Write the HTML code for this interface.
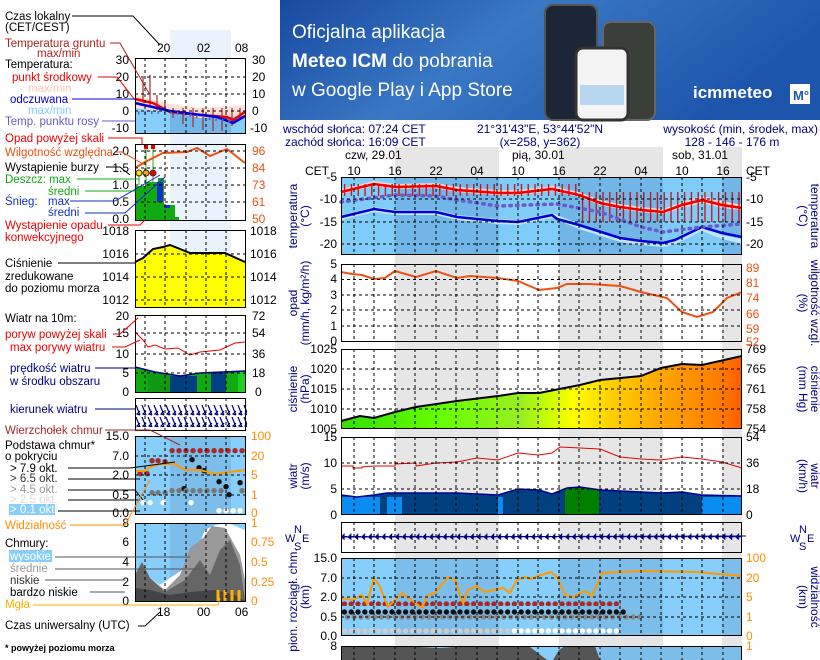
<!DOCTYPE html>
<html><head><meta charset="utf-8"><style>
html,body{margin:0;padding:0;background:#fff;width:820px;height:660px;overflow:hidden;}
svg{display:block;font-family:"Liberation Sans",sans-serif;}
</style></head><body>
<svg width="820" height="660" viewBox="0 0 820 660" xmlns="http://www.w3.org/2000/svg" overflow="hidden">
<defs>
<linearGradient id="ban" x1="0" y1="0" x2="1" y2="0.3">
<stop offset="0" stop-color="#1849a0"/><stop offset="0.45" stop-color="#3a78c4"/><stop offset="1" stop-color="#1d55ab"/></linearGradient>
<linearGradient id="pg" x1="341" y1="0" x2="742" y2="0" gradientUnits="userSpaceOnUse">
<stop offset="0" stop-color="#33dd00"/><stop offset="0.25" stop-color="#66ff00"/><stop offset="0.45" stop-color="#99ee22"/><stop offset="0.52" stop-color="#ccff00"/><stop offset="0.58" stop-color="#ffff00"/><stop offset="0.68" stop-color="#ffcc00"/><stop offset="0.82" stop-color="#ffa000"/><stop offset="0.95" stop-color="#ff7a00"/><stop offset="1" stop-color="#ff5a00"/></linearGradient>
<pattern id="gt" width="6.8" height="40" patternUnits="userSpaceOnUse" x="341"><rect x="3" y="0" width="1.2" height="40" fill="#cc0000"/></pattern>
<pattern id="wd" width="6.8" height="12" patternUnits="userSpaceOnUse" x="341" y="531"><path d="M0.5 6 L6.5 5.5 M0.5 6 L3 3.5 L3 8 Z" stroke="#000080" stroke-width="1.2" fill="#000080"/></pattern>
<pattern id="dr" width="6.8" height="8" patternUnits="userSpaceOnUse" x="341" y="600"><circle cx="3.4" cy="4" r="2.7" fill="#a52a2a"/></pattern>
<pattern id="db" width="6.8" height="8" patternUnits="userSpaceOnUse" x="341" y="608"><circle cx="3.4" cy="4" r="2.7" fill="#111"/></pattern>
<pattern id="dg" width="6.8" height="8" patternUnits="userSpaceOnUse" x="344" y="613"><circle cx="3.4" cy="4" r="2.7" fill="#888"/></pattern>
<pattern id="dw" width="6.8" height="8" patternUnits="userSpaceOnUse" x="341" y="627"><circle cx="3.4" cy="4" r="2.7" fill="#ccc"/></pattern>
<pattern id="dw2" width="6.8" height="8" patternUnits="userSpaceOnUse" x="341" y="627"><circle cx="3.4" cy="4" r="2.7" fill="#fff"/></pattern>
<pattern id="ld" width="6" height="12" patternUnits="userSpaceOnUse" x="135" y="405"><path d="M1 0 L5 10 M5 10 L2 9 L5 6" stroke="#000080" stroke-width="1.2" fill="none"/></pattern>
</defs>

<rect x="280" y="0" width="540" height="120" fill="url(#ban)"/>
<text x="292" y="38" fill="#fff" font-size="19">Oficjalna aplikacja</text>
<text x="292" y="67" fill="#fff" font-size="19"><tspan font-weight="bold">Meteo ICM</tspan> do pobrania</text>
<text x="292" y="96" fill="#fff" font-size="19">w Google Play i App Store</text>
<rect x="545" y="5" width="52" height="115" rx="8" fill="#1c2636" stroke="#555" stroke-width="2"/>
<rect x="603" y="22" width="52" height="98" rx="8" fill="#3a3f3a" stroke="#666" stroke-width="2"/>
<rect x="576" y="48" width="52" height="72" rx="7" fill="#f4f4f4" stroke="#333" stroke-width="3"/>
<rect x="580" y="85" width="44" height="20" fill="#b9d6f0"/>
<text x="693" y="98" fill="#fff" font-size="17" font-weight="bold">icmmeteo</text>
<rect x="790" y="84" width="20" height="20" fill="#fff"/>
<text x="793" y="100" fill="#1d55ab" font-size="13" font-weight="bold">M°</text>

<rect x="170" y="30" width="61" height="268" fill="#eaf2fc"/>
<rect x="395" y="147" width="104" height="513" fill="#e6e6e6"/>
<rect x="559" y="147" width="104" height="513" fill="#e6e6e6"/>
<rect x="722" y="147" width="20" height="513" fill="#e6e6e6"/>

<g fill="#000080" font-size="12">
<text x="283" y="133">wschód słońca: 07:24 CET</text>
<text x="285" y="146">zachód słońca: 16:09 CET</text>
<text x="540" y="133" text-anchor="middle">21°31'43"E, 53°44'52"N</text>
<text x="540" y="146" text-anchor="middle">(x=258,  y=362)</text>
<text x="818" y="133" text-anchor="end">wysokość (min, środek, max)</text>
<text x="732" y="146" text-anchor="middle">128 - 146 - 176 m</text>
</g>
<g font-size="12" fill="#000">
<text x="345" y="159">czw, 29.01</text><text x="512" y="159">pią, 30.01</text><text x="672" y="159">sob, 31.01</text>
<text x="305" y="175">CET</text><text x="746" y="175">CET</text>
<g text-anchor="middle"><text x="354" y="175">10</text><text x="395" y="175">16</text><text x="436" y="175">22</text><text x="477" y="175">04</text><text x="518" y="175">10</text><text x="559" y="175">16</text><text x="600" y="175">22</text><text x="641" y="175">04</text><text x="682" y="175">10</text><text x="723" y="175">16</text></g>
</g>

<rect x="341" y="177" width="401" height="78" fill="#80ccf8"/>
<rect x="395" y="177" width="104" height="78" fill="#72b6e8"/><rect x="559" y="177" width="104" height="78" fill="#72b6e8"/><rect x="722" y="177" width="20" height="78" fill="#72b6e8"/>
<polyline points="341,220 374,212 395,215 436,215 457,220 498,224 518,225 552,218 579,229 620,242 641,245 663,247 675,244 702,231 722,239 742,244 742,239 722,235 702,226 675,239 663,242 641,240 620,237 579,224 552,213 518,220 498,219 457,215 436,210 395,210 374,207 341,215" fill="#c0e6fb"/>
<polyline points="341,189 374,181 395,184 436,183 457,187 498,190 518,190 552,186 579,192 600,200 620,204 641,207 663,209 682,202 702,196 722,201 742,205 742,210 722,208 702,203 682,208 663,214 641,212 620,209 600,205 579,197 552,191 518,195 498,195 457,192 436,188 395,189 374,186 341,194" fill="#ffd0d0"/>
<rect x="341" y="184" width="239" height="12" fill="url(#gt)"/>
<rect x="580" y="192" width="162" height="30" fill="url(#gt)"/>
<polyline points="341,192 374,184 395,187 436,186 457,190 498,193 518,193 552,189 579,195 600,203 620,207 641,210 663,212 682,205 702,200 722,205 742,208" fill="none" stroke="#ee0000" stroke-width="2.5"/>
<polyline points="341,217 374,209 395,212 436,212 457,217 498,221 518,222 552,215 557,219 579,225 620,238 641,241 663,243 675,240 702,227 722,233 742,237" fill="none" stroke="#0000dd" stroke-width="2.5"/>
<polyline points="341,202 395,195 436,196 457,200 498,206 557,204 600,212 641,227 663,232 702,227 742,224" fill="none" stroke="#6a5acd" stroke-width="3.5" stroke-dasharray="1.5,5.3" stroke-linecap="round"/>

<polyline points="341,272 352,274 362,275 374,279 385,278 395,271 416,277 436,271 457,278 470,276 498,278 518,281 539,290 557,288 567,284 590,284 620,286 641,292 667,298 682,312 697,317 713,312 727,298 742,292" fill="none" stroke="#f05010" stroke-width="2"/>

<polygon points="341,421 360,416 374,418 395,412 416,407 457,401 498,396 518,393 539,393 580,385 600,380 641,376 661,368 682,364 702,365 742,356 742,429 341,429" fill="url(#pg)"/>
<polyline points="341,421 360,416 374,418 395,412 416,407 457,401 498,396 518,393 539,393 580,385 600,380 641,376 661,368 682,364 702,365 742,356" fill="none" stroke="#000" stroke-width="2"/>

<polygon points="341,495 357,497 374,495 387,493 457,493 498,495 518,489 539,490 552,494 567,488 580,487 600,490 661,493 682,492 702,495 742,496 742,515 341,515" fill="#004080"/>
<rect x="341" y="497" width="39" height="18" fill="#0a8cf0"/><rect x="387" y="497" width="15" height="18" fill="#0a8cf0"/><rect x="498" y="497" width="5" height="18" fill="#0a8cf0"/><rect x="702" y="497" width="40" height="18" fill="#0a8cf0"/>
<polygon points="565,489 580,487 599,489 599,515 565,515" fill="#008000"/>
<polyline points="341,495 357,497 374,495 387,493 457,493 498,495 518,489 539,490 552,494 567,488 580,487 600,490 661,493 682,492 702,495 742,496" fill="none" stroke="#000099" stroke-width="1.5"/>
<polyline points="341,466 353,466 353,468 362,468 362,467 374,466 395,466 395,464 416,463 416,466 436,463 457,462 477,458 498,460 518,453 539,455 552,453 560,447 580,448 600,449 620,457 641,459 661,460 682,457 702,459 722,462 742,468" fill="none" stroke="#ee0000" stroke-width="1"/>

<rect x="341" y="531" width="401" height="12" fill="url(#wd)"/>
<line x1="341" y1="537" x2="746" y2="536" stroke="#000080" stroke-width="1"/>

<rect x="341" y="558" width="401" height="78" fill="#87cefa"/>
<rect x="395" y="558" width="104" height="78" fill="#7cbde9"/><rect x="559" y="558" width="104" height="78" fill="#7cbde9"/><rect x="722" y="558" width="20" height="78" fill="#7cbde9"/>
<rect x="341" y="600" width="280" height="6" fill="url(#dr)"/>
<rect x="341" y="609" width="285" height="7" fill="url(#db)"/>
<rect x="344" y="614" width="300" height="7" fill="url(#dg)"/>
<rect x="341" y="628" width="170" height="7" fill="url(#dw)"/>
<rect x="511" y="628" width="110" height="7" fill="url(#dw2)"/>
<polyline points="341,598 353,600 362,595 367,604 374,578 380,587 388,607 402,593 422,608 428,595 435,593 448,577 455,580 463,603 468,590 477,586 484,592 503,588 510,593 517,580 525,577 531,579 538,576 551,572 557,577 565,595 573,597 585,591 592,596 602,573 640,571 697,572 742,576" fill="none" stroke="#ff9900" stroke-width="2"/>

<rect x="341" y="646" width="401" height="14" fill="#87cefa"/>
<rect x="600" y="646" width="142" height="14" fill="#7cbde9"/>
<polygon points="341,647 400,646 440,648 470,646 530,647 547,660 341,660" fill="#555"/>
<polygon points="559,650 565,646 595,646 600,660 553,660" fill="#555"/>

<g stroke="#000" stroke-width="1" stroke-dasharray="3,3" fill="none">
<path d="M354 177V255M374 177V255M395 177V255M415 177V255M436 177V255M456 177V255M477 177V255M497 177V255M518 177V255M538 177V255M559 177V255M579 177V255M600 177V255M620 177V255M641 177V255M661 177V255M682 177V255M702 177V255M723 177V255"/>
<path d="M354 264V341M374 264V341M395 264V341M415 264V341M436 264V341M456 264V341M477 264V341M497 264V341M518 264V341M538 264V341M559 264V341M579 264V341M600 264V341M620 264V341M641 264V341M661 264V341M682 264V341M702 264V341M723 264V341"/>
<path d="M354 349V429M374 349V429M395 349V429M415 349V429M436 349V429M456 349V429M477 349V429M497 349V429M518 349V429M538 349V429M559 349V429M579 349V429M600 349V429M620 349V429M641 349V429M661 349V429M682 349V429M702 349V429M723 349V429"/>
<path d="M354 437V515M374 437V515M395 437V515M415 437V515M436 437V515M456 437V515M477 437V515M497 437V515M518 437V515M538 437V515M559 437V515M579 437V515M600 437V515M620 437V515M641 437V515M661 437V515M682 437V515M702 437V515M723 437V515"/>
<path d="M354 522V552M374 522V552M395 522V552M415 522V552M436 522V552M456 522V552M477 522V552M497 522V552M518 522V552M538 522V552M559 522V552M579 522V552M600 522V552M620 522V552M641 522V552M661 522V552M682 522V552M702 522V552M723 522V552"/>
<path d="M354 558V636M374 558V636M395 558V636M415 558V636M436 558V636M456 558V636M477 558V636M497 558V636M518 558V636M538 558V636M559 558V636M579 558V636M600 558V636M620 558V636M641 558V636M661 558V636M682 558V636M702 558V636M723 558V636"/>
<path d="M354 646V660M374 646V660M395 646V660M415 646V660M436 646V660M456 646V660M477 646V660M497 646V660M518 646V660M538 646V660M559 646V660M579 646V660M600 646V660M620 646V660M641 646V660M661 646V660M682 646V660M702 646V660M723 646V660"/>
<path d="M341 199H742M341 222H742M341 244H742M341 279.5H742M341 295H742M341 310H742M341 326H742M341 369H742M341 389H742M341 409H742M341 463H742M341 489H742M341 578H742M341 597H742M341 617H742"/>
</g>
<g fill="none" stroke="#000" stroke-width="1">
<rect x="341.5" y="177.5" width="400" height="77"/><rect x="341.5" y="264.5" width="400" height="77"/><rect x="341.5" y="349.5" width="400" height="79"/><rect x="341.5" y="437.5" width="400" height="77"/><rect x="341.5" y="522.5" width="400" height="30"/><rect x="341.5" y="558.5" width="400" height="77"/><path d="M341.5 660V646.5H741.5V660"/>
</g>

<g font-size="12" fill="#000" text-anchor="end">
<text x="337" y="181">-5</text><text x="337" y="203">-10</text><text x="337" y="226">-15</text><text x="337" y="248">-20</text>
<text x="337" y="268">5</text><text x="337" y="283">4</text><text x="337" y="299">3</text><text x="337" y="314">2</text><text x="337" y="330">1</text><text x="337" y="345">0</text>
<text x="337" y="353">1025</text><text x="337" y="373">1020</text><text x="337" y="393">1015</text><text x="337" y="413">1010</text><text x="337" y="433">1005</text>
<text x="337" y="441">15</text><text x="337" y="467">10</text><text x="337" y="493">5</text><text x="337" y="519">0</text>
<text x="337" y="562">15.0</text><text x="337" y="582">7.0</text><text x="337" y="601">2.0</text><text x="337" y="621">0.5</text><text x="337" y="640">0.0</text>
<text x="337" y="650">8</text>
</g>
<g font-size="12" fill="#000">
<text x="746" y="181">-5</text><text x="746" y="203">-10</text><text x="746" y="226">-15</text><text x="746" y="248">-20</text>
<text x="746" y="353">769</text><text x="746" y="373">765</text><text x="746" y="393">761</text><text x="746" y="413">758</text><text x="746" y="433">754</text>
<text x="746" y="441">54</text><text x="746" y="467">36</text><text x="746" y="493">18</text><text x="746" y="519">0</text>
</g>
<g font-size="12" fill="#f05010">
<text x="746" y="272">89</text><text x="746" y="287">81</text><text x="746" y="302">74</text><text x="746" y="318">66</text><text x="746" y="333">59</text><text x="746" y="346">52</text>
</g>
<g font-size="12" fill="#ff8c00">
<text x="746" y="562">100</text><text x="746" y="582">20</text><text x="746" y="601">5</text><text x="746" y="621">1</text><text x="746" y="640">0</text><text x="746" y="650">1</text>
</g>

<g font-size="12" fill="#000080" text-anchor="middle">
<text transform="translate(297,216) rotate(-90)">temperatura</text><text transform="translate(309,216) rotate(-90)">(°C)</text>
<text transform="translate(799,216) rotate(90)">(°C)</text><text transform="translate(811,216) rotate(90)">temperatura</text>
<text transform="translate(297,303) rotate(-90)">opad</text><text transform="translate(309,303) rotate(-90)">(mm/h, kg/m²/h)</text>
<text transform="translate(799,303) rotate(90)">(%)</text><text transform="translate(811,303) rotate(90)">wilgotność wzgl.</text>
<text transform="translate(297,389) rotate(-90)">ciśnienie</text><text transform="translate(309,389) rotate(-90)">(hPa)</text>
<text transform="translate(799,389) rotate(90)">(mm Hg)</text><text transform="translate(811,389) rotate(90)">ciśnienie</text>
<text transform="translate(297,476) rotate(-90)">wiatr</text><text transform="translate(309,476) rotate(-90)">(m/s)</text>
<text transform="translate(799,476) rotate(90)">(km/h)</text><text transform="translate(811,476) rotate(90)">wiatr</text>
<text transform="translate(297,600) rotate(-90)">pion. rozciągł. chm.</text><text transform="translate(309,597) rotate(-90)">(km)</text>
<text transform="translate(799,597) rotate(90)">(km)</text><text transform="translate(811,597) rotate(90)">widzialność</text>
</g>
<g font-size="11" fill="#000080">
<text x="285" y="542">W</text><text x="294" y="533">N</text><text x="294" y="550">S</text><text x="302" y="542">E</text>
<text x="790" y="542">W</text><text x="799" y="533">N</text><text x="799" y="550">S</text><text x="807" y="542">E</text>
</g>

<g font-size="12" fill="#000">
<text x="157" y="52">20</text><text x="197" y="52">02</text><text x="235" y="52">08</text>
<g text-anchor="end"><text x="129" y="64">30</text><text x="129" y="81">20</text><text x="129" y="98">10</text><text x="129" y="115">0</text><text x="129" y="132">-10</text>
<text x="129" y="155">2.0</text><text x="129" y="172">1.5</text><text x="129" y="189">1.0</text><text x="129" y="206">0.5</text><text x="129" y="223">0.0</text>
<text x="129" y="235">1018</text><text x="129" y="258">1016</text><text x="129" y="281">1014</text><text x="129" y="304">1012</text>
<text x="129" y="320">20</text><text x="129" y="337">15</text><text x="129" y="358">10</text><text x="129" y="377">5</text><text x="129" y="396">0</text>
<text x="129" y="440">15.0</text><text x="129" y="460">7.0</text><text x="129" y="479">2.0</text><text x="129" y="499">0.5</text><text x="129" y="517">0.0</text>
<text x="129" y="527">8</text><text x="129" y="546">6</text><text x="129" y="566">4</text><text x="129" y="586">2</text><text x="129" y="605">0</text></g>
<text x="252" y="64">30</text><text x="252" y="81">20</text><text x="252" y="98">10</text><text x="252" y="115">0</text><text x="250" y="132">-10</text>
<text x="250" y="235">1018</text><text x="250" y="258">1016</text><text x="250" y="281">1014</text><text x="250" y="304">1012</text>
<text x="252" y="320">72</text><text x="252" y="337">54</text><text x="252" y="358">36</text><text x="252" y="377">18</text><text x="255" y="396">0</text>
<text x="157" y="616">18</text><text x="197" y="616">00</text><text x="235" y="616">06</text>
</g>
<g font-size="12" fill="#f05010"><text x="252" y="155">96</text><text x="252" y="172">84</text><text x="252" y="189">73</text><text x="252" y="206">61</text><text x="252" y="223">50</text></g>
<g font-size="12" fill="#ff8c00"><text x="251" y="440">100</text><text x="251" y="460">20</text><text x="251" y="479">5</text><text x="251" y="499">1</text><text x="251" y="517">0</text>
<text x="251" y="527">1</text><text x="251" y="546">0.75</text><text x="251" y="566">0.5</text><text x="251" y="586">0.25</text><text x="251" y="605">0</text></g>

<rect x="135" y="58" width="110" height="75" fill="#fff"/>
<polygon points="135,95 170,104 200,108 245,105 245,133 135,133" fill="#ffe0d8"/>
<polygon points="135,108 170,112 200,118 245,116 245,133 135,133" fill="#87cefa"/>
<polygon points="170,112 200,118 231,119 231,133 170,133" fill="#72b6e8"/>
<path d="M143 78V103M150 75V105M157 95V110M165 100V112M173 108V118M183 108V124M193 108V127M203 108V130M213 108V131M222 108V131M232 108V126M240 108V118" stroke="#a52a2a" stroke-width="1.2"/>
<polyline points="135,99 153,103 170,112 200,115 227,117 233,120 245,112" fill="none" stroke="#ee0000" stroke-width="2.5"/>
<polyline points="135,103 170,111 217,117 233,123 245,116" fill="none" stroke="#0000dd" stroke-width="2.5"/>
<polyline points="138,113 170,112 200,117 233,122" fill="none" stroke="#6a5acd" stroke-width="3" stroke-dasharray="1.5,5"/>
<rect x="135" y="186" width="10" height="34" fill="#11aa11"/><rect x="145" y="182" width="13" height="38" fill="#11aa11"/><rect x="158" y="178" width="6" height="42" fill="#11aa11"/><rect x="164" y="205" width="11" height="15" fill="#11aa11"/><rect x="175" y="217" width="4" height="3" fill="#11aa11"/>
<rect x="157" y="182" width="6" height="20" fill="#1030cc"/><rect x="164" y="205" width="6" height="3" fill="#1030cc"/>
<path d="M146 147V172M153 147V172M139 172V185M146 172V185M153 172V185" stroke="#22aa22" stroke-width="1"/>
<circle cx="139" cy="173" r="3" fill="#ffdd00" stroke="#333"/><circle cx="146" cy="173" r="3" fill="#ffa500" stroke="#333"/><circle cx="153" cy="173" r="3" fill="#ee0000" stroke="#333"/>
<rect x="144" y="145" width="4" height="4" fill="#ee0000"/><rect x="151" y="145" width="4" height="4" fill="#ee0000"/>
<polyline points="135,168 145,162 163,153 187,152 197,148 210,156 227,149 245,163" fill="none" stroke="#f05010" stroke-width="2"/>
<polygon points="135,262 143,258 153,249 163,247 170,245 190,253 225,253 245,262 245,307 135,307" fill="#ffff00"/>
<polyline points="135,262 143,258 153,249 163,247 170,245 190,253 225,253 245,262" fill="none" stroke="#000" stroke-width="2"/>
<polygon points="135,367 155,372 180,376 200,373 245,371 245,392 135,392" fill="#11aa11"/>
<rect x="148" y="374" width="22" height="18" fill="#119911"/><rect x="170" y="376" width="27" height="16" fill="#004080"/><rect x="211" y="373" width="15" height="19" fill="#004080"/><rect x="238" y="372" width="7" height="20" fill="#22cc22"/>
<polyline points="135,367 155,372 180,376 200,373 245,371" fill="none" stroke="#000099" stroke-width="1.5"/>
<polyline points="135,332 143,340 148,347 155,345 165,349 178,348 190,355 200,352 220,350 235,343 245,342" fill="none" stroke="#ee0000" stroke-width="1"/>
<rect x="135" y="405" width="112" height="22" fill="url(#ld)"/>
<rect x="135" y="436" width="110" height="78" fill="#87cefa"/><rect x="170" y="436" width="61" height="78" fill="#7cbde9"/>
<path d="M140 471a2.7 2.7 0 1 0 .1 0M147 471a2.7 2.7 0 1 0 .1 0M152 458a2.7 2.7 0 1 0 .1 0M158 458a2.7 2.7 0 1 0 .1 0M165 459a2.7 2.7 0 1 0 .1 0M172 448a2.7 2.7 0 1 0 .1 0M179 448a2.7 2.7 0 1 0 .1 0M186 448a2.7 2.7 0 1 0 .1 0M193 448a2.7 2.7 0 1 0 .1 0M200 448a2.7 2.7 0 1 0 .1 0M207 448a2.7 2.7 0 1 0 .1 0M214 448a2.7 2.7 0 1 0 .1 0M221 448a2.7 2.7 0 1 0 .1 0M228 448a2.7 2.7 0 1 0 .1 0M235 448a2.7 2.7 0 1 0 .1 0M242 448a2.7 2.7 0 1 0 .1 0" fill="#a52a2a"/>
<path d="M192 457a2.7 2.7 0 1 0 .1 0M199 465a2.7 2.7 0 1 0 .1 0M204 468a2.7 2.7 0 1 0 .1 0M219 479a2.7 2.7 0 1 0 .1 0M226 484a2.7 2.7 0 1 0 .1 0M240 480a2.7 2.7 0 1 0 .1 0M184 486a2.7 2.7 0 1 0 .1 0M229 492a2.7 2.7 0 1 0 .1 0" fill="#111"/>
<path d="M152 490a2.7 2.7 0 1 0 .1 0M158 490a2.7 2.7 0 1 0 .1 0M165 490a2.7 2.7 0 1 0 .1 0M172 488a2.7 2.7 0 1 0 .1 0M179 488a2.7 2.7 0 1 0 .1 0M186 488a2.7 2.7 0 1 0 .1 0M193 488a2.7 2.7 0 1 0 .1 0M200 488a2.7 2.7 0 1 0 .1 0M207 488a2.7 2.7 0 1 0 .1 0M214 488a2.7 2.7 0 1 0 .1 0M221 488a2.7 2.7 0 1 0 .1 0M242 488a2.7 2.7 0 1 0 .1 0" fill="#777"/>
<path d="M143 500a2.7 2.7 0 1 0 .1 0M150 500a2.7 2.7 0 1 0 .1 0M163 500a2.7 2.7 0 1 0 .1 0M191 500a2.7 2.7 0 1 0 .1 0M219 508a2.7 2.7 0 1 0 .1 0M226 508a2.7 2.7 0 1 0 .1 0M233 508a2.7 2.7 0 1 0 .1 0M240 508a2.7 2.7 0 1 0 .1 0" fill="#fff"/>
<polyline points="135,471 145,471 150,467 160,464 175,464 185,470 200,470 215,474 230,472 245,470" fill="none" stroke="#ff9900" stroke-width="2"/>
<rect x="135" y="523" width="110" height="78" fill="#87cefa"/><rect x="170" y="523" width="61" height="78" fill="#7cbde9"/>
<polygon points="135,575 142,562 150,578 160,585 170,578 185,568 195,555 205,530 215,525 228,523 245,530 245,601 135,601" fill="#fff"/>
<polygon points="135,575 142,562 150,578 165,590 180,575 190,548 203,538 212,526 225,528 240,555 245,580 245,601 135,601" fill="#999"/>
<polygon points="135,575 142,562 150,578 165,592 185,580 200,560 210,575 220,550 230,540 240,565 245,600 245,601 135,601" fill="#666"/>
<polygon points="135,588 150,590 170,595 190,592 215,590 235,595 245,601 135,601" fill="#444"/>
<path d="M218 590V601M225 590V601M232 590V601M239 590V601" stroke="#ffb000" stroke-width="3"/>
<g stroke="#000" stroke-dasharray="3,3" fill="none">
<path d="M145 58V133M165 58V133M186 58V133M206 58V133M226 58V133M135 77H245M135 94H245M135 111H245"/>
<path d="M145 144V220M165 144V220M186 144V220M206 144V220M226 144V220M135 151H245M135 168H245M135 185H245M135 202H245"/>
<path d="M145 230V307M165 230V307M186 230V307M206 230V307M226 230V307M135 254H245M135 277H245M135 300H245"/>
<path d="M145 315V392M165 315V392M186 315V392M206 315V392M226 315V392M135 333H245M135 354H245M135 373H245"/>
<path d="M145 398V430M165 398V430M186 398V430M206 398V430M226 398V430"/>
<path d="M145 436V514M165 436V514M186 436V514M206 436V514M226 436V514M135 456H245M135 475H245M135 495H245"/>
<path d="M145 523V601M165 523V601M186 523V601M206 523V601M226 523V601"/>
</g>
<g stroke="#000" fill="none"><rect x="135.5" y="58.5" width="110" height="75"/><rect x="135.5" y="144.5" width="110" height="76"/><rect x="135.5" y="230.5" width="110" height="77"/><rect x="135.5" y="315.5" width="110" height="77"/><rect x="135.5" y="398.5" width="110" height="32"/><rect x="135.5" y="436.5" width="110" height="78"/><rect x="135.5" y="523.5" width="110" height="78"/></g>

<g font-size="11.5">
<text x="5" y="20" fill="#000">Czas lokalny</text><text x="5" y="31" fill="#000">(CET/CEST)</text>
<text x="5" y="47" fill="#b22222">Temperatura gruntu</text><text x="37" y="57" fill="#b22222">max/min</text>
<text x="5" y="68" fill="#000">Temperatura:</text>
<text x="12" y="81" fill="#ee0000">punkt środkowy</text>
<text x="28" y="92" fill="#ffc8b8">max/min</text>
<text x="10" y="103" fill="#0000dd">odczuwana</text>
<text x="28" y="114" fill="#87cefa">max/min</text>
<text x="5" y="125" fill="#6a5acd">Temp. punktu rosy</text>
<text x="5" y="142" fill="#ee0000">Opad powyżej skali</text>
<text x="5" y="156" fill="#f05010">Wilgotność względna</text>
<text x="5" y="171" fill="#000">Wystąpienie burzy</text>
<text x="5" y="183" fill="#11aa11">Deszcz: max</text><text x="48" y="195" fill="#11aa11">średni</text>
<text x="5" y="205" fill="#1030cc">Śnieg:</text><text x="48" y="205" fill="#1030cc">max</text><text x="48" y="216" fill="#1030cc">średni</text>
<text x="5" y="229" fill="#ee0000">Wystąpienie opadu</text><text x="5" y="241" fill="#ee0000">konwekcyjnego</text>
<text x="5" y="267" fill="#000">Ciśnienie</text><text x="5" y="280" fill="#000">zredukowane</text><text x="5" y="292" fill="#000">do poziomu morza</text>
<text x="5" y="322" fill="#000">Wiatr na 10m:</text>
<text x="5" y="338" fill="#ee0000">poryw powyżej skali</text><text x="10" y="351" fill="#ee0000">max porywy wiatru</text>
<text x="10" y="372" fill="#000080">prędkość wiatru</text><text x="10" y="385" fill="#000080">w środku obszaru</text>
<text x="10" y="413" fill="#000080">kierunek wiatru</text>
<text x="5" y="434" fill="#a52a2a">Wierzchołek chmur</text>
<text x="5" y="449" fill="#000">Podstawa chmur*</text><text x="5" y="460" fill="#000">o pokryciu</text>
<text x="10" y="472" fill="#000">&gt; 7.9 okt.</text><text x="10" y="482" fill="#333">&gt; 6.5 okt.</text><text x="10" y="493" fill="#999">&gt; 4.5 okt.</text><text x="10" y="503" fill="#ddd">&gt; 2.5 okt.</text>
<rect x="9" y="504" width="46" height="11" fill="#87cefa"/><text x="10" y="513" fill="#fff">&gt; 0.1 okt.</text>
<text x="5" y="529" fill="#ff8c00">Widzialność</text>
<text x="5" y="547" fill="#000">Chmury:</text>
<rect x="9" y="550" width="43" height="12" fill="#87cefa"/><text x="10" y="560" fill="#fff">wysokie</text>
<text x="10" y="572" fill="#999">średnie</text><text x="10" y="584" fill="#333">niskie</text><text x="10" y="596" fill="#000">bardzo niskie</text>
<text x="5" y="608" fill="#ffb000">Mgła</text>
<text x="5" y="629" fill="#000">Czas uniwersalny (UTC)</text>
<text x="5" y="651" fill="#000" font-size="9" font-weight="bold">* powyżej poziomu morza</text>
</g>
<g fill="none" stroke-width="1">
<path d="M72 16H133L160 45" stroke="#000"/>
<path d="M110 43H120L150 95" stroke="#b22222"/>
<path d="M98 77H117L135 100" stroke="#ee0000"/>
<path d="M72 99H135" stroke="#0000dd"/>
<path d="M102 121H135" stroke="#6a5acd"/>
<path d="M108 138H142V145" stroke="#ee0000"/>
<path d="M116 152H122L145 165" stroke="#f05010"/>
<path d="M106 167H120L130 175" stroke="#000"/>
<path d="M77 179H139M85 191H145" stroke="#11aa11"/>
<path d="M70 201H115L160 175M85 213H125L165 177" stroke="#1030cc"/>
<path d="M108 225H140L145 220" stroke="#ee0000"/>
<path d="M58 263H135" stroke="#000"/>
<path d="M113 334H120L138 318M112 347H125L140 340" stroke="#ee0000"/>
<path d="M95 368H135" stroke="#000080"/>
<path d="M95 409H135" stroke="#000080"/>
<path d="M105 430H150L180 445" stroke="#a52a2a"/>
<path d="M68 468H130L175 462M68 479H140M68 490H135L143 500M68 500H140M58 511H140" stroke="#000"/>
<path d="M70 525H125L150 480" stroke="#ff8c00"/>
<path d="M55 557H190M55 569H200M45 580H125M90 592H125" stroke="#555"/>
<path d="M33 605H218L220 598" stroke="#ffb000"/>
<path d="M138 626H145L160 612" stroke="#000"/>
</g>
</svg>
</body></html>
